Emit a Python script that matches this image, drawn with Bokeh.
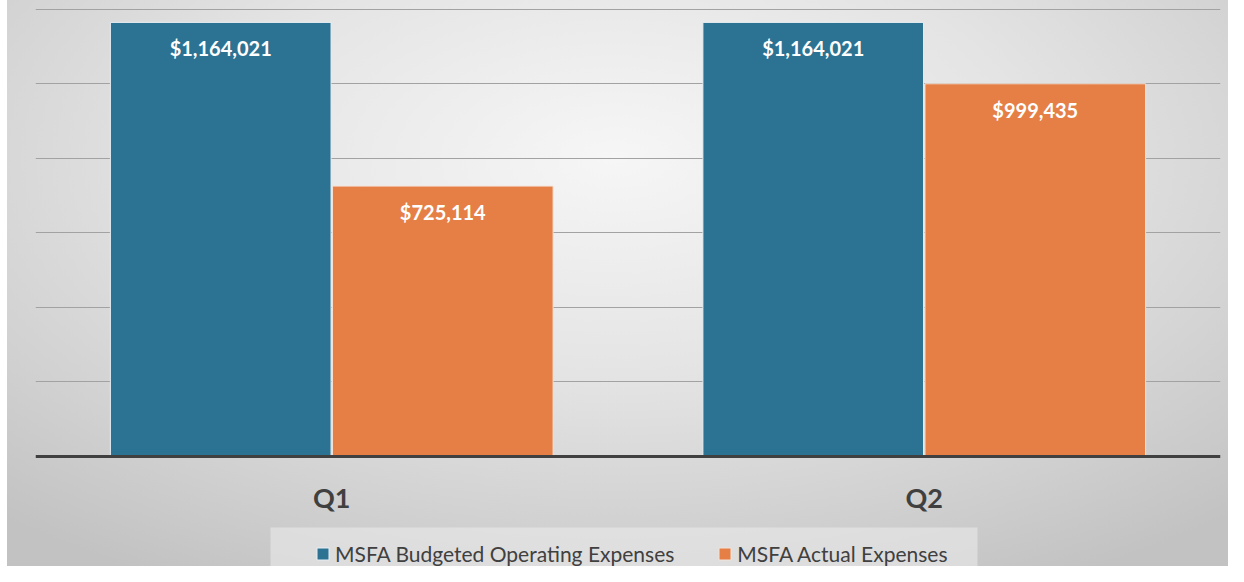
from bokeh.plotting import figure
from bokeh.models import (FactorRange, Range1d, ColumnDataSource, FixedTicker,
                          Span, Legend, LegendItem, BoxAnnotation)
from bokeh.transform import dodge
from bokeh.core.properties import value
from bokeh.embed import file_html
from bokeh.resources import INLINE

quarters = ["Q1", "Q2"]
budgeted = [1164021, 1164021]
actual = [725114, 999435]
series_names = ["MSFA Budgeted Operating Expenses", "MSFA Actual Expenses"]
grid_ticks = [200000, 400000, 600000, 800000, 1000000, 1200000]

BLUE = "#2c7393"
ORANGE = "#e57f46"
FONT = "Lato"

def money(v):
    return "${:,}".format(v)

src = ColumnDataSource(dict(
    q=quarters,
    budgeted=budgeted,
    actual=actual,
    blab=[money(v) for v in budgeted],
    alab=[money(v) for v in actual],
    zero=[0, 0],
))

p = figure(width=1228, height=566, output_backend="svg", toolbar_location=None,
           x_range=FactorRange(*quarters, range_padding=0),
           y_range=Range1d(-294976, 1222794),
           x_axis_location=None, y_axis_location=None,
           min_border_left=35, min_border_right=8, min_border_top=0, min_border_bottom=0)
p.outline_line_color = None
p.background_fill_alpha = 0
p.border_fill_alpha = 0
p.styles = {"background":
            "linear-gradient(#ffffff, #ffffff) left top / 7px 100% no-repeat, "
            "radial-gradient(ellipse 75% 85% at 50% 28%, #f6f6f6 0%, #e4e4e4 45%, #d2d2d2 75%, #c2c2c2 100%)"}

p.xgrid.visible = False
p.ygrid.ticker = FixedTicker(ticks=grid_ticks)
p.ygrid.grid_line_color = "#a2a2a2"
p.ygrid.grid_line_width = 1

off = 0.1874
w = 0.3724
r1 = p.vbar(x=dodge("q", -off, range=p.x_range), top="budgeted", width=w, source=src,
            fill_color=BLUE, line_color="#e8eef2", line_width=1)
r2 = p.vbar(x=dodge("q", off, range=p.x_range), top="actual", width=w, source=src,
            fill_color=ORANGE, line_color="#f3e3d8", line_width=1)

p.add_layout(Span(location=0, dimension="width", line_color="#404040", line_width=3))

p.text(x=dodge("q", -off, range=p.x_range), y="budgeted", text="blab", source=src,
       text_font=value(FONT), text_font_style="bold", text_font_size="20px",
       text_color="white", text_align="center", text_baseline="middle", y_offset=26)
p.text(x=dodge("q", off, range=p.x_range), y="actual", text="alab", source=src,
       text_font=value(FONT), text_font_style="bold", text_font_size="20px",
       text_color="white", text_align="center", text_baseline="middle", y_offset=26)

p.text(x="q", y="zero", text="q", source=src,
       text_font=value(FONT), text_font_style="bold", text_font_size="27px",
       text_color="#404040", text_align="center", text_baseline="middle", y_offset=41)

box = BoxAnnotation(left=270, right=977, top=527, bottom=566,
                    left_units="canvas", right_units="canvas",
                    top_units="canvas", bottom_units="canvas",
                    fill_color="#ececec", fill_alpha=0.55, line_color=None)
p.add_layout(box)

legend = Legend(items=[LegendItem(label=series_names[0], renderers=[r1]),
                       LegendItem(label=series_names[1], renderers=[r2])],
                orientation="horizontal", location=(280, 0),
                background_fill_alpha=0, border_line_color=None,
                label_text_font=FONT, label_text_font_size="21px", label_text_color="#404040",
                glyph_width=15, glyph_height=15, label_standoff=5, spacing=43,
                padding=9, margin=0, label_height=21)
p.add_layout(legend)

open("out.html", "w").write(file_html(p, INLINE))
